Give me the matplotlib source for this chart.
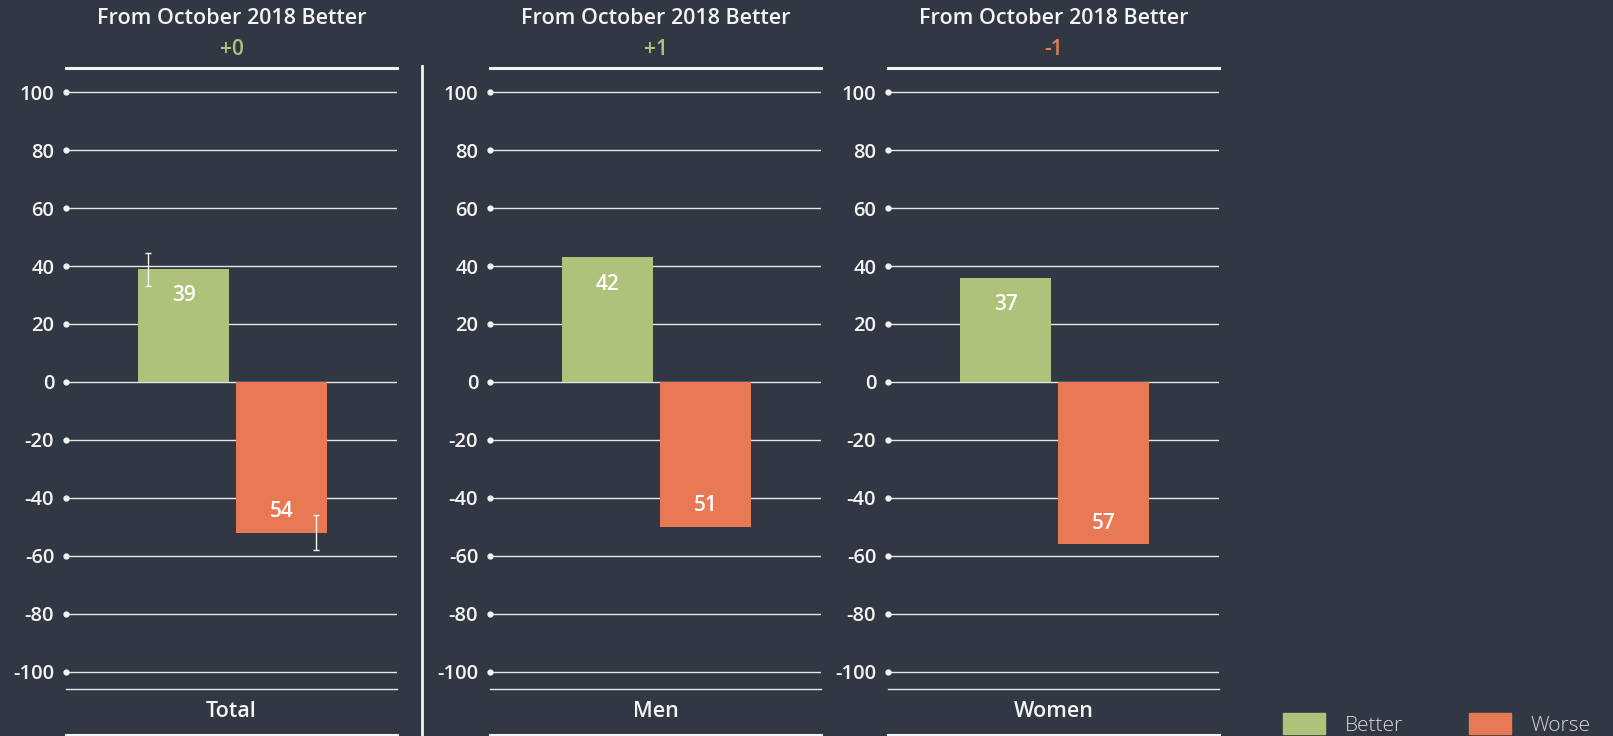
import matplotlib
matplotlib.use("Agg")
import matplotlib.pyplot as plt
from matplotlib.lines import Line2D
from matplotlib.patches import Patch
import numpy as np

plt.rcParams['font.family'] = ['Open Sans', 'DejaVu Sans']

# data
groups = ['Total', 'Men', 'Women']
better = [39, 43, 36]            # bar heights
worse = [-52, -50, -56]
better_labels = ['39', '42', '37']
worse_labels = ['54', '51', '57']
change = ['+0', '+1', '-1']
# error range, only shown for Total
err_better = (33, 44.5)
err_worse = (-58, -46)
yticks = list(range(-100, 101, 20))

BG = '#323843'
GREEN = '#afc27a'
RED = '#e97855'
WHITE = '#f4f4f4'

W, H = 1613, 736
fig = plt.figure(figsize=(W / 100, H / 100), dpi=100, facecolor=BG)

lefts = [66, 490, 888]
ax_w = 331
top_px, bot_px = 68, 689

for i, g in enumerate(groups):
    ax = fig.add_axes([lefts[i] / W, 1 - bot_px / H, ax_w / W, (bot_px - top_px) / H])
    ax.set_facecolor(BG)
    ax.set_xlim(-1.2, 2.18)
    ax.set_ylim(-105.9, 108.3)

    ax.bar(0, better[i], width=0.93, color=GREEN, zorder=3)
    ax.bar(1, worse[i], width=0.93, color=RED, zorder=3)

    ax.annotate(better_labels[i], (0, better[i]), xytext=(0, -27), textcoords='offset pixels',
                ha='center', va='center', color='white', fontsize=15, fontweight='semibold', zorder=4)
    ax.annotate(worse_labels[i], (1, worse[i]), xytext=(0, 21), textcoords='offset pixels',
                ha='center', va='center', color='white', fontsize=15, fontweight='semibold', zorder=4)

    if g == 'Total':
        for x, (lo, hi) in [(-0.36, err_better), (1.35, err_worse)]:
            mid = (lo + hi) / 2
            ax.errorbar(x, mid, yerr=[[mid - lo], [hi - mid]], color=WHITE, lw=1,
                        capsize=2.5, capthick=1, zorder=5)

    ax.set_yticks(yticks)
    ax.set_yticklabels([str(t) for t in yticks])
    ax.set_xticks([])
    ax.tick_params(axis='y', length=0, pad=8.5, labelsize=14.5, labelcolor=WHITE)
    for lab in ax.get_yticklabels():
        lab.set_fontweight('semibold')
    ax.grid(axis='y', color='#e6e6e6', lw=1, zorder=1)
    ax.plot(np.full(len(yticks), -1.2), yticks, 'o', ms=3.5, color=WHITE, clip_on=False, zorder=6)

    for s in ['left', 'right']:
        ax.spines[s].set_visible(False)
    ax.spines['top'].set_color(WHITE)
    ax.spines['top'].set_linewidth(2.2)
    ax.spines['bottom'].set_color('#e6e6e6')
    ax.spines['bottom'].set_linewidth(1)

    ax.text(0.5, 1.080, 'From October 2018 Better', transform=ax.transAxes, ha='center', va='center',
            color=WHITE, fontsize=15.5, fontweight='semibold')
    ax.text(0.5, 1.030, change[i], transform=ax.transAxes, ha='center', va='center',
            color=GREEN if change[i].startswith('+') else RED, fontsize=15, fontweight='semibold')
    ax.text(0.5, -0.037, g, transform=ax.transAxes, ha='center', va='center',
            color=WHITE, fontsize=15.5, fontweight='semibold')
    ax.plot([0, 1], [-0.074, -0.074], transform=ax.transAxes, color=WHITE, lw=2.2, clip_on=False)

# separator between Total and the split panels
fig.add_artist(Line2D([422 / W, 422 / W], [0, 1 - 66 / H], color=WHITE, lw=2))

handles = [Patch(color=GREEN, label='Better'), Patch(color=RED, label='Worse')]
leg = fig.legend(handles=handles, loc='upper left', bbox_to_anchor=(1283 / W, 1 - 713 / H),
                 ncol=2, frameon=False, fontsize=15, handlelength=2.0, handleheight=1.2,
                 handletextpad=0.95, columnspacing=3.2, borderpad=0, borderaxespad=0)
for t in leg.get_texts():
    t.set_color('#d8d8d8')
    t.set_fontweight('light')

fig.savefig('out.png', dpi=100, facecolor=BG)
